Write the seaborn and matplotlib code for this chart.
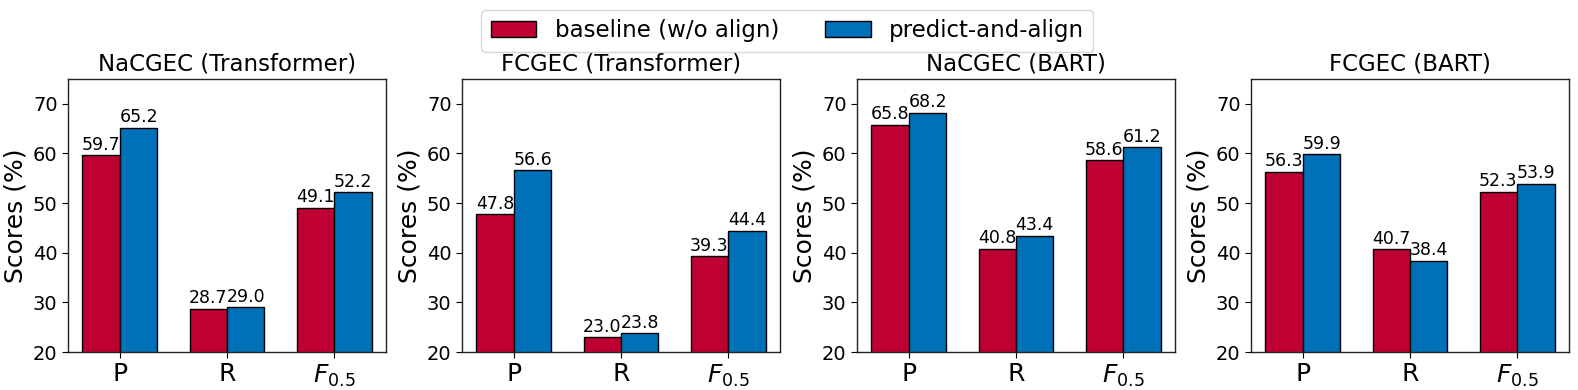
import pandas as pd
import seaborn as sns
from matplotlib import pyplot as plt

metrics = ['P', 'R', '$F_{0.5}$']
panels = ['NaCGEC (Transformer)', 'FCGEC (Transformer)', 'NaCGEC (BART)', 'FCGEC (BART)']
methods = ['baseline (w/o align)', 'predict-and-align']

baseline = [
    [59.7, 28.7, 49.1],
    [47.8, 23.0, 39.3],
    [65.8, 40.8, 58.6],
    [56.3, 40.7, 52.3],
]
aligned = [
    [65.2, 29.0, 52.2],
    [56.6, 23.8, 44.4],
    [68.2, 43.4, 61.2],
    [59.9, 38.4, 53.9],
]

colors = ['#BF0033', '#0071B9']

sns.set_style('white')
plt.rcParams['font.family'] = ['DejaVu Sans']
plt.rcParams.update({'text.color': 'black', 'axes.labelcolor': 'black',
                     'xtick.color': 'black', 'ytick.color': 'black'})

fig = plt.figure(figsize=(15.78, 3.9), dpi=100)
W, H = 1578, 390
lefts = [68, 462, 857, 1251]
ax_w, ax_top, ax_bot = 318, 79, 352

axes = []
for i, title in enumerate(panels):
    ax = fig.add_axes([lefts[i] / W, 1 - ax_bot / H, ax_w / W, (ax_bot - ax_top) / H])
    df = pd.DataFrame({
        'metric': metrics * 2,
        'method': [methods[0]] * 3 + [methods[1]] * 3,
        'score': baseline[i] + aligned[i],
    })
    sns.barplot(df, x='metric', y='score', hue='method', hue_order=methods, palette=colors,
                saturation=1, width=0.7, edgecolor='black', linewidth=1, ax=ax, legend=(i == 0))
    for cont in ax.containers:
        ax.bar_label(cont, fmt='%.1f', fontsize=12.5, padding=1, color='black')
    ax.set_ylim(20, 75)
    ax.set_xlim(-0.485, 2.485)
    ax.set_yticks([20, 30, 40, 50, 60, 70])
    ax.set_title(title, fontsize=16.5, color='black')
    ax.set_xlabel('')
    ax.set_ylabel('Scores (%)', fontsize=18)
    ax.tick_params(axis='y', labelsize=14, left=True, length=4, color='black')
    ax.tick_params(axis='x', labelsize=18, bottom=True, length=4, color='black')
    for s in ax.spines.values():
        s.set_edgecolor('#222222')
        s.set_linewidth(1)
    axes.append(ax)

handles, labels = axes[0].get_legend_handles_labels()
axes[0].get_legend().remove()
fig.legend(handles, labels, loc='upper center', ncol=2, fontsize=16.5,
           bbox_to_anchor=(0.499, 1.003), columnspacing=2.0)

fig.savefig('out.png', dpi=100)
